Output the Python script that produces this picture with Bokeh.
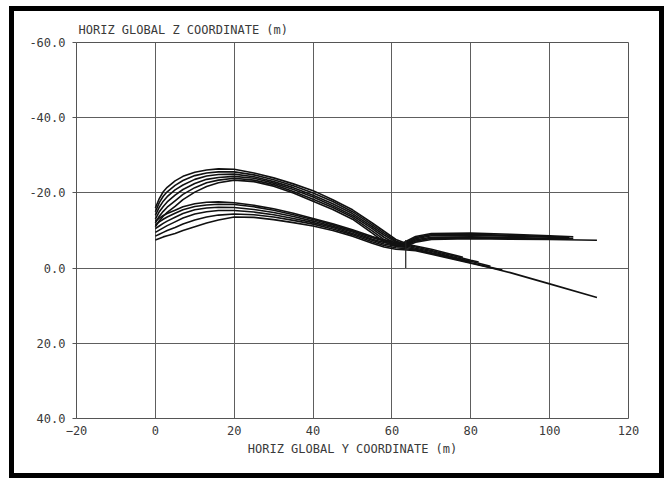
from bokeh.plotting import figure
from bokeh.models import Range1d, FixedTicker, PrintfTickFormatter, ColumnDataSource
from bokeh.embed import file_html
from bokeh.resources import INLINE

# ---- data ----
X_TICKS = [-20, 0, 20, 40, 60, 80, 100, 120]
Y_TICKS = [-60, -40, -20, 0, 20, 40]

X_MAIN = [0, 1, 2, 3, 5, 7, 10, 13, 16, 20, 25, 30, 35, 40, 45, 50, 55, 58, 61, 63]

# upper family (main arc)
U1 = [-16.0, -18.5, -20.3, -21.5, -23.2, -24.4, -25.5, -26.1, -26.4, -26.3, -25.3, -24.0, -22.4, -20.6, -18.2, -15.5, -12.0, -9.8, -7.6, -6.8]
U2 = [-15.0, -17.4, -19.1, -20.3, -22.0, -23.3, -24.6, -25.3, -25.6, -25.6, -24.8, -23.5, -21.9, -20.0, -17.7, -15.0, -11.5, -9.3, -7.2, -6.5]
U3 = [-14.0, -16.2, -17.8, -19.0, -20.8, -22.1, -23.6, -24.5, -24.9, -25.0, -24.3, -23.0, -21.4, -19.4, -17.1, -14.5, -11.0, -8.8, -6.9, -6.3]
U4 = [-13.0, -15.0, -16.4, -17.6, -19.4, -20.9, -22.5, -23.6, -24.1, -24.4, -23.9, -22.6, -20.9, -18.9, -16.6, -14.0, -10.5, -8.2, -6.5, -6.1]
U5 = [-12.0, -13.8, -15.1, -16.2, -17.9, -19.6, -21.4, -22.7, -23.4, -23.9, -23.4, -22.2, -20.4, -18.3, -16.1, -13.5, -9.9, -7.6, -6.1, -5.8]
U6 = [-11.0, -12.6, -13.8, -14.8, -16.4, -18.2, -20.2, -21.7, -22.7, -23.4, -23.0, -21.8, -20.0, -17.8, -15.6, -13.0, -9.3, -7.0, -5.8, -5.6]

# upper family tails (horizontal branch)
U1_TX = [66, 70, 80, 90, 100, 106]
U1_TZ = [-8.4, -9.2, -9.3, -9.0, -8.6, -8.3]
U2_TX = [66, 70, 80, 90, 100, 105]
U2_TZ = [-8.1, -8.9, -9.0, -8.7, -8.4, -8.1]
U3_TX = [66, 70, 80, 90, 100, 104]
U3_TZ = [-7.8, -8.6, -8.7, -8.5, -8.2, -8.0]
U4_TX = [66, 70, 80, 90, 100, 106]
U4_TZ = [-7.5, -8.2, -8.3, -8.1, -7.9, -7.8]
U5_TX = [66, 70, 80, 90, 100]
U5_TZ = [-7.2, -7.9, -8.0, -7.9, -7.7]
U6_TX = [66, 70, 80, 90, 100, 112]
U6_TZ = [-6.9, -7.6, -7.8, -7.7, -7.6, -7.4]

# lower family (main arc)
L1 = [-12.5, -13.3, -14.0, -14.5, -15.4, -16.3, -17.1, -17.5, -17.6, -17.4, -16.7, -15.8, -14.6, -13.2, -11.8, -10.2, -8.4, -7.5, -6.8, -6.5]
L2 = [-11.5, -12.3, -13.0, -13.6, -14.6, -15.5, -16.4, -16.8, -17.0, -16.9, -16.3, -15.4, -14.2, -12.9, -11.5, -9.9, -8.1, -7.2, -6.5, -6.2]
L3 = [-10.5, -11.2, -11.9, -12.5, -13.5, -14.5, -15.5, -16.0, -16.2, -16.1, -15.6, -14.8, -13.7, -12.5, -11.1, -9.6, -7.7, -6.8, -6.2, -6.0]
L4 = [-9.5, -10.1, -10.7, -11.3, -12.3, -13.3, -14.4, -15.0, -15.3, -15.3, -14.9, -14.2, -13.2, -12.1, -10.8, -9.2, -7.4, -6.4, -5.8, -5.6]
L5 = [-8.5, -9.0, -9.5, -10.0, -10.8, -11.7, -12.8, -13.6, -14.1, -14.4, -14.2, -13.6, -12.7, -11.7, -10.4, -8.9, -7.0, -6.0, -5.4, -5.2]
L6 = [-7.5, -7.9, -8.3, -8.6, -9.2, -10.0, -11.0, -12.0, -12.8, -13.6, -13.5, -12.9, -12.1, -11.2, -10.0, -8.5, -6.6, -5.6, -5.0, -4.9]

# lower family tails (descending branch)
L1_TX = [66, 70, 75, 78]
L1_TZ = [-5.9, -5.0, -3.7, -2.9]
L2_TX = [66, 70, 75, 80, 82]
L2_TZ = [-5.6, -4.7, -3.4, -2.1, -1.6]
L3_TX = [66, 70, 75, 80, 85]
L3_TZ = [-5.3, -4.4, -3.1, -1.8, -0.5]
L4_TX = [66, 70, 75, 80]
L4_TZ = [-5.0, -4.1, -2.9, -1.6]
L5_TX = [66, 70, 75, 80, 85, 88]
L5_TZ = [-4.8, -3.9, -2.7, -1.4, -0.2, 0.5]
L6_TX = [66, 70, 75, 80, 85, 90, 100, 112]
L6_TZ = [-4.6, -3.7, -2.5, -1.3, -0.1, 1.2, 4.2, 7.8]

# vertical riser
RISER_X = [63.5, 63.5]
RISER_Z = [-7.5, 0.0]

FONT = "DejaVu Sans Mono"
TXT = "#3a3a3a"

p = figure(width=645, height=462, output_backend="svg", toolbar_location=None,
           x_range=Range1d(-20, 120), y_range=Range1d(40, -60),
           min_border_left=62, min_border_right=31, min_border_top=31, min_border_bottom=55,
           title="HORIZ GLOBAL Z COORDINATE (m)")
p.styles = {"position": "relative", "left": "14px", "top": "11px",
            "outline": "5px solid black", "outline-offset": "0px"}
p.background_fill_color = "white"
p.border_fill_color = "white"
p.outline_line_color = "#555555"
p.outline_line_width = 1

p.title.text_font = FONT
p.title.text_font_size = "12px"
p.title.text_font_style = "normal"
p.title.text_color = TXT
p.title.align = "left"
p.title.offset = 2
p.title.standoff = 12

p.xaxis.ticker = FixedTicker(ticks=X_TICKS)
p.yaxis.ticker = FixedTicker(ticks=Y_TICKS)
p.yaxis.formatter = PrintfTickFormatter(format="%.1f")
for ax in (p.xaxis, p.yaxis):
    ax.axis_line_color = None
    ax.minor_tick_line_color = None
    ax.major_label_text_font = FONT
    ax.major_label_text_font_size = "12px"
    ax.major_label_text_color = TXT
    ax.major_tick_line_color = "#555555"
    ax.major_tick_in = 0
p.xaxis.major_tick_out = 0
p.xaxis.major_label_standoff = 7
p.yaxis.major_tick_out = 4
p.yaxis.major_label_standoff = 7
p.xaxis.axis_label = "HORIZ GLOBAL Y COORDINATE (m)"
p.xaxis.axis_label_text_font = FONT
p.xaxis.axis_label_text_font_size = "12px"
p.xaxis.axis_label_text_font_style = "normal"
p.xaxis.axis_label_text_color = TXT
p.xaxis.axis_label_standoff = 4

p.grid.grid_line_color = "#5e5e5e"
p.grid.grid_line_width = 1

mains = [U1, U2, U3, U4, U5, U6, L1, L2, L3, L4, L5, L6]
tails_x = [U1_TX, U2_TX, U3_TX, U4_TX, U5_TX, U6_TX, L1_TX, L2_TX, L3_TX, L4_TX, L5_TX, L6_TX]
tails_z = [U1_TZ, U2_TZ, U3_TZ, U4_TZ, U5_TZ, U6_TZ, L1_TZ, L2_TZ, L3_TZ, L4_TZ, L5_TZ, L6_TZ]
xs = [X_MAIN + tx for tx in tails_x]
ys = [m + tz for m, tz in zip(mains, tails_z)]
src = ColumnDataSource(dict(xs=xs, ys=ys))
p.multi_line("xs", "ys", source=src, line_color="#111111", line_width=1.6)
p.line(RISER_X, RISER_Z, line_color="#222222", line_width=1.2)

open("out.html", "w").write(file_html(p, INLINE))
